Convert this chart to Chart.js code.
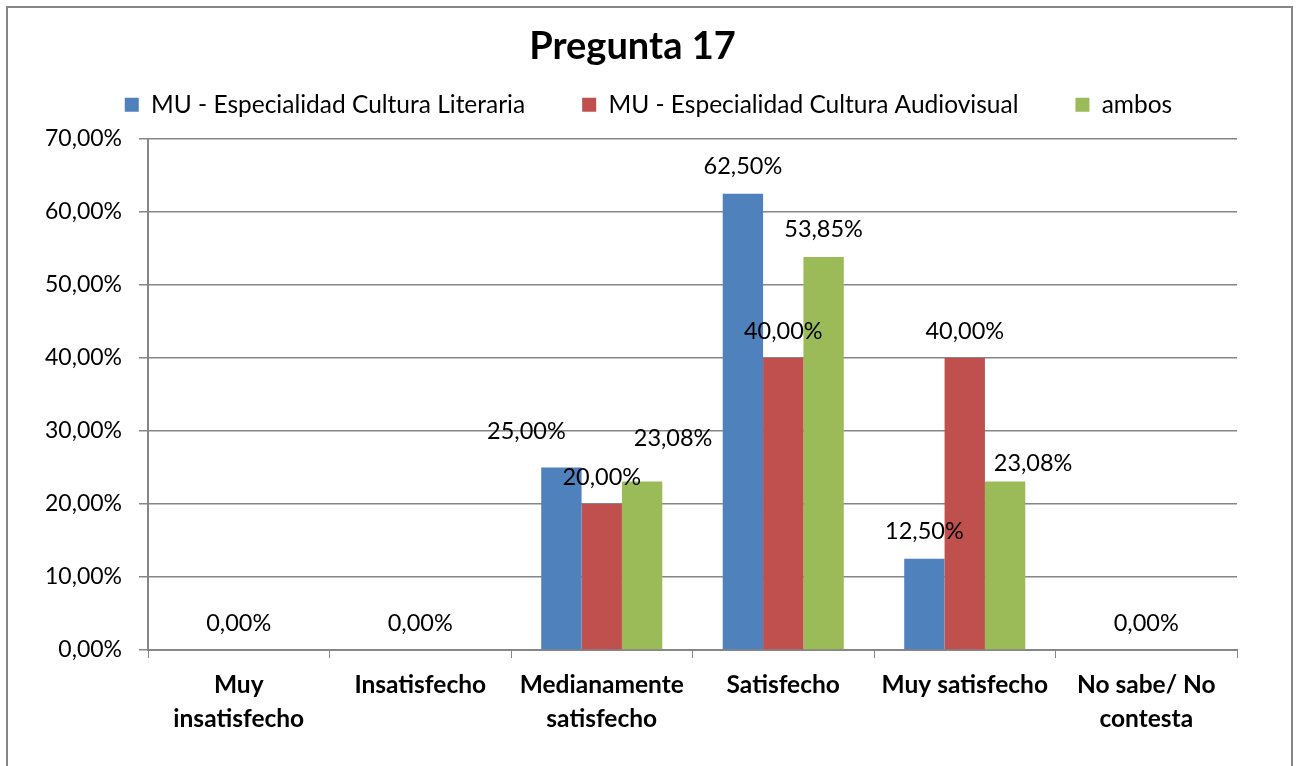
<!DOCTYPE html>
<html>
<head>
<meta charset="utf-8">
<script src="https://cdn.jsdelivr.net/npm/chart.js@4.4.0/dist/chart.umd.min.js"></script>
<style>
  html, body { margin: 0; padding: 0; background: #fff; }
  #wrap { position: absolute; left: 0; top: 0; width: 1299px; height: 766px; }
</style>
</head>
<body>
<div id="wrap"><canvas id="grafico"></canvas></div>
<script>
// datos
const categorias = [
    ['Muy', 'insatisfecho'],
    'Insatisfecho',
    ['Medianamente', 'satisfecho'],
    'Satisfecho',
    'Muy satisfecho',
    ['No sabe/ No', 'contesta']
];
const series = [
    'MU - Especialidad Cultura Literaria',
    'MU - Especialidad Cultura Audiovisual',
    'ambos'
];
const literaria = [null, null, 25.00, 62.50, 12.50, null];
const audiovisual = [0, 0, 20.00, 40.00, 40.00, 0];
const ambos = [null, null, 23.08, 53.85, 23.08, null];
const ticksY = [0, 10, 20, 30, 40, 50, 60, 70];

const colores = ['#4F81BD', '#C0504D', '#9BBB59'];
// desplazamientos manuales de algunas etiquetas (como en el original)
const ajusteEtiquetas = {
    '0-2': [-35, -9],
    '2-2': [31, -16],
    '2-4': [28, 9]
};

const fuente = 'Lato, "Liberation Sans", sans-serif';
const gris = '#868686';

function formato(v) {
    return v.toFixed(2).replace('.', ',') + '%';
}

// marco exterior del grafico
const marco = {
    id: 'marco',
    beforeDraw(chart) {
        const ctx = chart.ctx;
        ctx.save();
        ctx.fillStyle = '#fff';
        ctx.fillRect(0, 0, chart.width, chart.height);
        ctx.strokeStyle = gris;
        ctx.lineWidth = 2;
        ctx.strokeRect(7, 7, 1285, 800);
        ctx.restore();
    }
};

// mover la leyenda un poco (derecha y arriba), como en Excel
const leyendaDesplazada = {
    id: 'leyendaDesplazada',
    afterLayout(chart) {
        const l = chart.legend;
        l.left += 16;
        l.right += 16;
        l.top -= 12;
        l.bottom -= 12;
    }
};

// etiquetas de datos encima de las barras
const etiquetas = {
    id: 'etiquetas',
    afterDatasetsDraw(chart) {
        const ctx = chart.ctx;
        ctx.save();
        ctx.font = '23.5px ' + fuente;
        ctx.fillStyle = '#000';
        ctx.textAlign = 'center';
        ctx.textBaseline = 'middle';
        chart.data.datasets.forEach((ds, i) => {
            const meta = chart.getDatasetMeta(i);
            meta.data.forEach((barra, j) => {
                const v = ds.data[j];
                if (v === null) return;
                const aj = ajusteEtiquetas[i + '-' + j] || [0, 0];
                ctx.fillText(formato(v), barra.x + aj[0], barra.y - 27 + aj[1]);
            });
        });
        ctx.restore();
    }
};

const dados = {
    labels: categorias,
    datasets: [literaria, audiovisual, ambos].map((d, i) => ({
        label: series[i],
        data: d,
        backgroundColor: colores[i],
        categoryPercentage: 0.667,
        barPercentage: 1.0,
        skipNull: true
    }))
};

const configuracao = {
    type: 'bar',
    data: dados,
    options: {
        responsive: true,
        maintainAspectRatio: false,
        animation: false,
        layout: { padding: { left: 28, right: 62, top: 0, bottom: 0 } },
        plugins: {
            title: {
                display: true,
                text: 'Pregunta 17',
                color: '#000',
                font: { family: fuente, size: 38, weight: 'bold' },
                padding: { top: 9, bottom: -22 }
            },
            legend: {
                display: true,
                labels: {
                    color: '#000',
                    font: { family: fuente, size: 24.5 },
                    boxWidth: 14,
                    boxHeight: 14,
                    padding: 57
                }
            },
            tooltip: { enabled: false }
        },
        scales: {
            x: {
                grid: {
                    display: true,
                    drawOnChartArea: false,
                    drawTicks: true,
                    tickLength: 8,
                    color: gris,
                    offset: true
                },
                border: { color: gris, width: 2 },
                ticks: {
                    color: '#000',
                    font: { family: fuente, size: 24.5, weight: 'bold', lineHeight: 1.35 },
                    padding: 11,
                    maxRotation: 0,
                    autoSkip: false
                },
                afterFit(s) { s.height = 116; }
            },
            y: {
                min: 0,
                max: 70,
                afterBuildTicks(s) { s.ticks = ticksY.map(v => ({ value: v })); },
                grid: { color: gris, lineWidth: 1.5, tickLength: 9 },
                border: { color: gris, width: 2 },
                ticks: {
                    color: '#000',
                    font: { family: fuente, size: 23 },
                    padding: 17,
                    callback: v => formato(v)
                },
                afterFit(s) {
                    s.width = 120;
                    s.paddingTop = 139;
                }
            }
        }
    },
    plugins: [marco, leyendaDesplazada, etiquetas]
};

var meuGrafico = new Chart(document.getElementById('grafico'), configuracao);
</script>
</body>
</html>
